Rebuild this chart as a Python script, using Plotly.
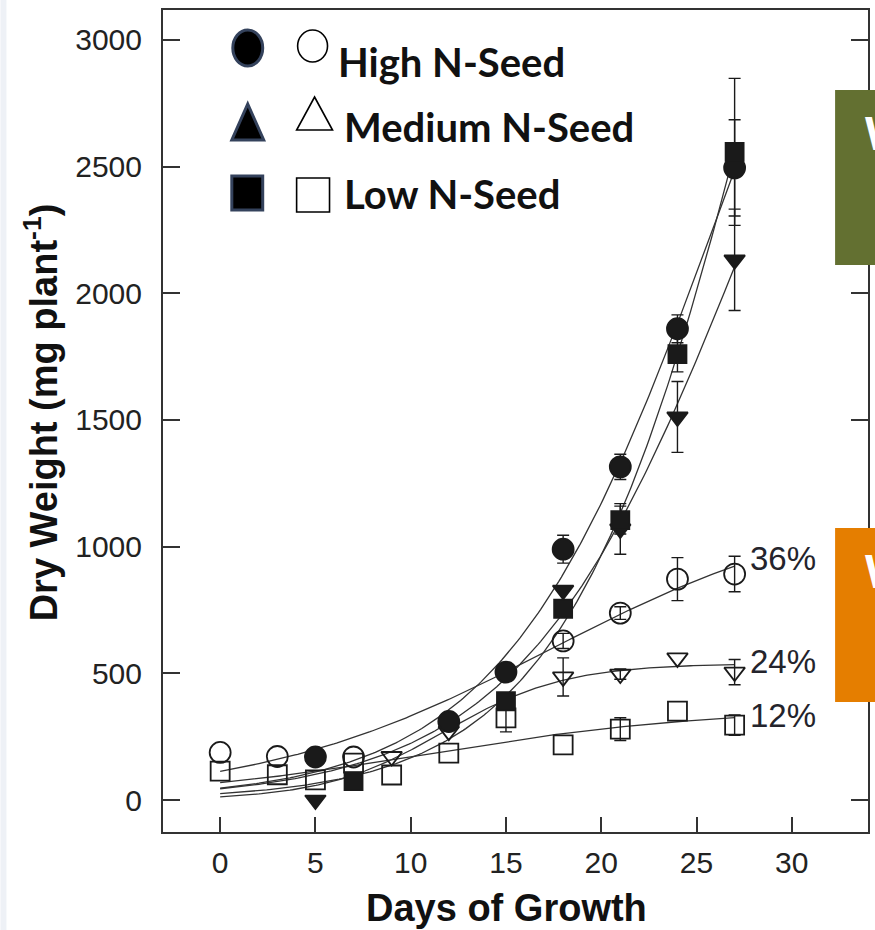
import numpy as np
import plotly.graph_objects as go

# ---- measured dry weight (mg plant^-1) by day; None = no visible error bar ----
days_high_f = [5, 12, 15, 18, 21, 24, 27]
dw_high_f = [170, 310, 505, 990, 1315, 1860, 2495]
se_high_f = [None, None, None, 55, 50, 55, 190]

days_med_f = [5, 18, 21, 24, 27]
dw_med_f = [0, 828, 1070, 1512, 2132]
se_med_f = [None, None, 100, 140, 200]

days_low_f = [7, 15, 18, 21, 24, 27]
dw_low_f = [75, 390, 755, 1105, 1760, 2558]
se_low_f = [None, None, None, 55, 70, 290]

days_high_o = [0, 3, 7, 18, 21, 24, 27]
dw_high_o = [188, 172, 170, 628, 738, 872, 892]
se_high_o = [None, None, None, 30, 25, 85, 70]

days_med_o = [9, 12, 18, 21, 24, 27]
dw_med_o = [172, 272, 486, 497, 561, 505]
se_med_o = [None, None, 75, 20, None, 50]

days_low_o = [0, 3, 5, 7, 9, 12, 15, 18, 21, 24, 27]
dw_low_o = [114, 100, 80, 146, 99, 185, 324, 218, 280, 351, 296]
se_low_o = [None, None, None, None, None, None, 55, None, 45, None, 40]

x_ticks = [0, 5, 10, 15, 20, 25, 30]
y_ticks = [0, 500, 1000, 1500, 2000, 2500, 3000]
pct_labels = ["36%", "24%", "12%"]
legend_names = ["High N-Seed", "Medium N-Seed", "Low N-Seed"]


def logistic_fit(x, y):
    """Least-squares logistic growth curve K / (1 + exp(-r (t - t0)))."""
    x = np.asarray(x, float)
    y = np.asarray(y, float)
    best = (np.inf, None)
    for r in np.linspace(0.04, 0.6, 113):
        for t0 in np.linspace(0, 45, 181):
            g = 1.0 / (1.0 + np.exp(-r * (x - t0)))
            k = g @ y / (g @ g)
            sse = np.sum((k * g - y) ** 2)
            if sse < best[0]:
                best = (sse, (k, r, t0))
    k, r, t0 = best[1]
    return lambda t: k / (1.0 + np.exp(-r * (t - t0)))


INK = "#1a1a1a"
LINE = "#333333"
AX = "#333333"

series = [
    (days_high_o, dw_high_o, se_high_o, "circle-open", 21),
    (days_med_o, dw_med_o, se_med_o, "triangle-down-open", 18),
    (days_low_o, dw_low_o, se_low_o, "square-open", 19),
    (days_high_f, dw_high_f, se_high_f, "circle", 21),
    (days_med_f, dw_med_f, se_med_f, "triangle-down", 18),
    (days_low_f, dw_low_f, se_low_f, "square", 18),
]

fig = go.Figure()

# fitted growth curves
t = np.linspace(0, 27, 200)
for d, w, _, _, _ in series:
    f = logistic_fit(d, w)
    fig.add_trace(go.Scatter(x=t, y=f(t), mode="lines",
                             line=dict(color=LINE, width=1.3),
                             hoverinfo="skip", showlegend=False))

# error bars only where a standard error exists
for d, w, e, _, _ in series:
    keep = [i for i, v in enumerate(e) if v is not None]
    if not keep:
        continue
    fig.add_trace(go.Scatter(
        x=[d[i] for i in keep], y=[w[i] for i in keep], mode="markers",
        marker=dict(size=1, opacity=0),
        error_y=dict(type="data", array=[e[i] for i in keep], color=INK,
                     thickness=1.4, width=6),
        hoverinfo="skip", showlegend=False))

# data markers
for d, w, _, sym, size in series:
    fig.add_trace(go.Scatter(
        x=d, y=w, mode="markers",
        marker=dict(symbol=sym, size=size, color=INK,
                    line=dict(color=INK, width=1.8)),
        showlegend=False))

# ---- plot frame in pixels ----
L, R, T, B = 163, 870, 10, 832


def px(x):
    return (x - L) / (R - L)


def py(y):
    return (B - y) / (B - T)


shapes = []
# legend symbols: filled and open version of each seed class
rim = "#34425c"
shapes.append(dict(type="circle", xref="paper", yref="paper",
                   x0=px(233), x1=px(263), y0=py(66), y1=py(30),
                   fillcolor="#000", line=dict(color=rim, width=3)))
shapes.append(dict(type="circle", xref="paper", yref="paper",
                   x0=px(298), x1=px(328), y0=py(62), y1=py(30),
                   fillcolor="rgba(0,0,0,0)", line=dict(color="#000", width=1.6)))
shapes.append(dict(type="path", xref="paper", yref="paper",
                   path=f"M {px(248)},{py(104)} L {px(264)},{py(140)} L {px(232)},{py(140)} Z",
                   fillcolor="#000", line=dict(color=rim, width=3)))
shapes.append(dict(type="path", xref="paper", yref="paper",
                   path=f"M {px(315)},{py(97)} L {px(333)},{py(130)} L {px(297)},{py(130)} Z",
                   fillcolor="rgba(0,0,0,0)", line=dict(color="#000", width=1.6)))
shapes.append(dict(type="rect", xref="paper", yref="paper",
                   x0=px(232), x1=px(263), y0=py(210), y1=py(176),
                   fillcolor="#000", line=dict(color=rim, width=3)))
shapes.append(dict(type="rect", xref="paper", yref="paper",
                   x0=px(297), x1=px(330), y0=py(212), y1=py(178),
                   fillcolor="rgba(0,0,0,0)", line=dict(color="#000", width=1.6)))

# slide overlay panels along the right edge
shapes.append(dict(type="rect", xref="paper", yref="paper", layer="above",
                   x0=px(837), x1=px(880), y0=py(265), y1=py(90),
                   fillcolor="#637031", line=dict(width=0)))
shapes.append(dict(type="rect", xref="paper", yref="paper", layer="above",
                   x0=px(837), x1=px(880), y0=py(702), y1=py(528),
                   fillcolor="#E57E00", line=dict(width=0)))
# faint strip on the far left
shapes.append(dict(type="rect", xref="paper", yref="paper", layer="below",
                   x0=px(0), x1=px(6), y0=py(930), y1=py(0),
                   fillcolor="#eef1f6", line=dict(width=0)))

annotations = []
leg_font = dict(family="Lato, Calibri, sans-serif", size=40, color="#111")
for name, xl, yc in zip(legend_names, [336, 343, 343], [62, 127, 194]):
    annotations.append(dict(text=f"<b>{name}</b>", xref="paper", yref="paper",
                            x=px(xl), y=py(yc), xanchor="left", yanchor="middle",
                            showarrow=False, font=leg_font))

pct_font = dict(family="Arial, Liberation Sans, sans-serif", size=33, color="#24242c")
for lab, yv in zip(pct_labels, [955, 545, 332]):
    annotations.append(dict(text=lab, x=27.7, y=yv, xref="x", yref="y",
                            xanchor="left", yanchor="middle",
                            showarrow=False, font=pct_font))

# white lettering on the overlay panels, running off the right edge
for yc in [132, 570]:
    annotations.append(dict(text="<b>W</b>", xref="paper", yref="paper",
                            x=px(865), y=py(yc), xanchor="left", yanchor="middle",
                            showarrow=False,
                            font=dict(family="Open Sans, sans-serif", size=46, color="#ffffff")))

annotations.append(dict(text="<b>Dry Weight (mg plant<sup>-1</sup>)</b>",
                        xref="paper", yref="paper", x=px(41), y=py(412),
                        xanchor="center", yanchor="middle", textangle=-90,
                        showarrow=False,
                        font=dict(family="Arial, Liberation Sans, sans-serif", size=38, color="#111")))
annotations.append(dict(text="<b>Days of Growth</b>",
                        xref="paper", yref="paper", x=px(507), y=py(908),
                        xanchor="center", yanchor="middle", showarrow=False,
                        font=dict(family="Arial, Liberation Sans, sans-serif", size=38, color="#111")))

tick_font = dict(family="Arial, Liberation Sans, sans-serif", size=30, color="#222")

fig.update_layout(
    width=875, height=930,
    margin=dict(l=L, r=875 - R, t=T, b=930 - B, pad=0),
    paper_bgcolor="white", plot_bgcolor="white",
    shapes=shapes, annotations=annotations,
    showlegend=False,
    xaxis=dict(range=[-3, 34], tickvals=x_ticks, ticks="inside", ticklen=15,
               tickwidth=2, tickcolor=AX, showline=True, linecolor=AX, linewidth=2,
               mirror=True, showgrid=False, zeroline=False, tickfont=tick_font,
               ticklabelstandoff=3),
    yaxis=dict(range=[-126, 3118], tickvals=y_ticks, ticks="inside", ticklen=17,
               tickwidth=2, tickcolor=AX, showline=True, linecolor=AX, linewidth=2,
               mirror="ticks", showgrid=False, zeroline=False, tickfont=tick_font,
               ticklabelstandoff=13),
)

fig.write_html("out.html")
